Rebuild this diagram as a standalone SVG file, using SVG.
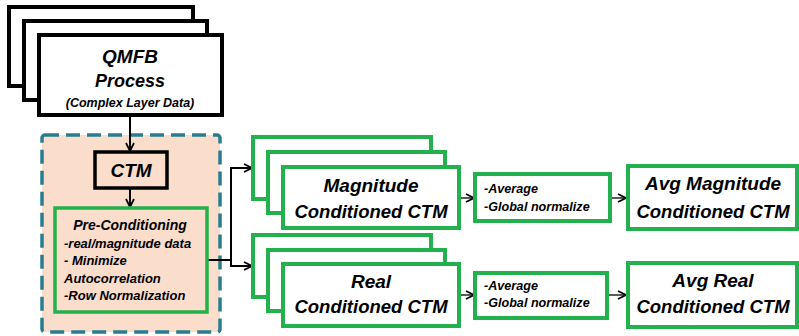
<svg xmlns="http://www.w3.org/2000/svg" width="799" height="336" viewBox="0 0 799 336">
<defs>
<style>
text{font-family:"Liberation Sans",Arial,sans-serif;font-weight:bold;font-style:italic;fill:#000}
.bk{fill:#fff;stroke:#000;stroke-width:4}
.gr{fill:#fff;stroke:#22B14C;stroke-width:4}
.big{font-size:19px;text-anchor:middle}
.mid{font-size:14px}
.sm{font-size:12.6px}
.ln{fill:none;stroke:#000;stroke-width:2}
.thin{fill:none;stroke:#000;stroke-width:1.3}
</style>
<marker id="ah" viewBox="0 0 10 10" refX="9" refY="5" markerWidth="10" markerHeight="10" markerUnits="userSpaceOnUse" orient="auto">
<polyline points="1,1 9,5 1,9" fill="none" stroke="#000" stroke-width="1.8"/>
</marker>
</defs>
<g id="precond-group">
<rect x="42" y="135" width="178" height="197" rx="3" fill="#FADDCB" stroke="#2A7D8E" stroke-width="3.5" stroke-dasharray="14 7"/>
</g>
<g id="connectors">
<line class="ln" x1="130" y1="115" x2="130" y2="151" marker-end="url(#ah)"/>
<line class="ln" x1="130" y1="188" x2="130" y2="207" marker-end="url(#ah)"/>
<polyline class="ln" points="207,260 231,260"/>
<polyline class="ln" points="252,168 231,168 231,266 252,266"/>
<line class="ln" x1="240" y1="168" x2="252" y2="168" marker-end="url(#ah)"/>
<line class="ln" x1="240" y1="266" x2="252" y2="266" marker-end="url(#ah)"/>
<line class="thin" x1="459" y1="198" x2="474" y2="198" marker-end="url(#ah)"/>
<line class="thin" x1="610" y1="198" x2="626" y2="198" marker-end="url(#ah)"/>
<line class="thin" x1="459" y1="295" x2="474" y2="295" marker-end="url(#ah)"/>
<line class="thin" x1="607" y1="295" x2="626" y2="295" marker-end="url(#ah)"/>
</g>
<g id="qmfb">
<rect class="bk" x="9" y="7" width="184" height="79"/>
<rect class="bk" x="24" y="21" width="183" height="79"/>
<rect class="bk" x="39" y="35" width="183" height="80"/>
<text class="big" x="130" y="63">QMFB</text>
<text class="big" x="130" y="87" style="font-size:18px">Process</text>
<text x="130" y="107" style="font-size:12.5px;text-anchor:middle">(Complex Layer Data)</text>
</g>
<g id="ctm">
<rect x="95" y="152" width="72" height="36" fill="none" stroke="#000" stroke-width="3.5"/>
<text class="big" x="131" y="177">CTM</text>
</g>
<g id="preconditioning">
<rect x="55" y="208" width="152" height="104" fill="none" stroke="#22B14C" stroke-width="3.5"/>
<text class="mid" x="130" y="230" style="text-anchor:middle">Pre-Conditioning</text>
<text x="64" y="248" style="font-size:13px">-real/magnitude data</text>
<text x="64" y="265" style="font-size:13px">- Minimize</text>
<text x="64" y="283" style="font-size:13px">Autocorrelation</text>
<text x="64" y="300" style="font-size:13px">-Row Normalization</text>
</g>
<g id="magnitude">
<rect class="gr" x="253" y="137" width="178" height="62"/>
<rect class="gr" x="268" y="152" width="177" height="61"/>
<rect class="gr" x="283" y="167" width="176" height="61"/>
<text class="big" x="371" y="192">Magnitude</text>
<text class="big" x="371" y="218" style="font-size:18.5px">Conditioned CTM</text>
</g>
<g id="real">
<rect class="gr" x="253" y="235" width="178" height="62"/>
<rect class="gr" x="268" y="250" width="177" height="61"/>
<rect class="gr" x="283" y="264" width="176" height="62"/>
<text class="big" x="371" y="288">Real</text>
<text class="big" x="371" y="313" style="font-size:18.5px">Conditioned CTM</text>
</g>
<g id="avg-mag-op">
<rect class="gr" x="475" y="174" width="135" height="47"/>
<text class="sm" x="484" y="193">-Average</text>
<text class="sm" x="484" y="211">-Global normalize</text>
</g>
<g id="avg-real-op">
<rect class="gr" x="475" y="273" width="132" height="45"/>
<text class="sm" x="484" y="290">-Average</text>
<text class="sm" x="484" y="307">-Global normalize</text>
</g>
<g id="avg-magnitude">
<rect class="gr" x="628" y="166" width="169" height="63"/>
<text class="big" x="713" y="190">Avg Magnitude</text>
<text class="big" x="713" y="218" style="font-size:18.5px">Conditioned CTM</text>
</g>
<g id="avg-real">
<rect class="gr" x="628" y="263" width="169" height="64"/>
<text class="big" x="713" y="287">Avg Real</text>
<text class="big" x="713" y="313" style="font-size:18.5px">Conditioned CTM</text>
</g>
</svg>
